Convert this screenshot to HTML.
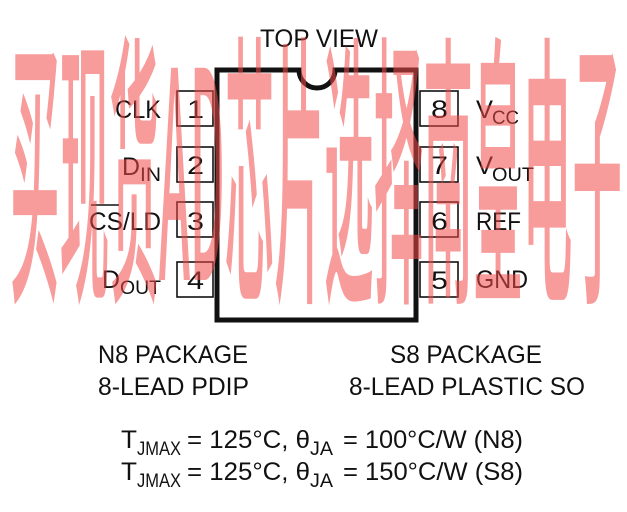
<!DOCTYPE html>
<html><head><meta charset="utf-8"><style>
html,body{margin:0;padding:0;background:#fff}
svg{display:block}
text{font-family:"Liberation Sans",sans-serif;fill:#111}
</style></head><body>
<svg width="627" height="512" viewBox="0 0 627 512" xmlns="http://www.w3.org/2000/svg">
<text x="260" y="47" font-size="25" textLength="118" lengthAdjust="spacingAndGlyphs">TOP VIEW</text>
<path d="M217 70 H299 A18 18 0 0 0 335 70 H416 V320 H217 Z" fill="none" stroke="#111" stroke-width="5"/>
<g fill="none" stroke="#111" stroke-width="1.6">
<rect x="177" y="91" width="36" height="35"/>
<rect x="177" y="147" width="36" height="35"/>
<rect x="177" y="202" width="36" height="35"/>
<rect x="177" y="262" width="36" height="35"/>
<rect x="420" y="91" width="38" height="35"/>
<rect x="420" y="147" width="38" height="35"/>
<rect x="420" y="202" width="38" height="35"/>
<rect x="420" y="262" width="38" height="35"/>
</g>
<g font-size="25">
<text x="187" y="118" textLength="17" lengthAdjust="spacingAndGlyphs">1</text>
<text x="187" y="174" textLength="17" lengthAdjust="spacingAndGlyphs">2</text>
<text x="187" y="230" textLength="17" lengthAdjust="spacingAndGlyphs">3</text>
<text x="187" y="289" textLength="17" lengthAdjust="spacingAndGlyphs">4</text>
<text x="431" y="118" textLength="17" lengthAdjust="spacingAndGlyphs">8</text>
<text x="431" y="174" textLength="17" lengthAdjust="spacingAndGlyphs">7</text>
<text x="431" y="230" textLength="17" lengthAdjust="spacingAndGlyphs">6</text>
<text x="431" y="289" textLength="17" lengthAdjust="spacingAndGlyphs">5</text>
<text x="115" y="118" textLength="46" lengthAdjust="spacingAndGlyphs">CLK</text>
<text x="122" y="175" textLength="18" lengthAdjust="spacingAndGlyphs">D</text>
<text x="140" y="181" font-size="19" textLength="21" lengthAdjust="spacingAndGlyphs">IN</text>
<text x="89" y="230" textLength="72" lengthAdjust="spacingAndGlyphs">CS/LD</text>
<line x1="91" y1="205" x2="119" y2="205" stroke="#111" stroke-width="1.5"/>
<text x="102" y="288" textLength="18" lengthAdjust="spacingAndGlyphs">D</text>
<text x="120" y="294" font-size="19" textLength="41" lengthAdjust="spacingAndGlyphs">OUT</text>
<text x="476" y="118" textLength="17" lengthAdjust="spacingAndGlyphs">V</text>
<text x="492" y="124" font-size="19" textLength="27" lengthAdjust="spacingAndGlyphs">CC</text>
<text x="476" y="174" textLength="17" lengthAdjust="spacingAndGlyphs">V</text>
<text x="492" y="181" font-size="19" textLength="42" lengthAdjust="spacingAndGlyphs">OUT</text>
<text x="476" y="230" textLength="45" lengthAdjust="spacingAndGlyphs">REF</text>
<text x="476" y="288" textLength="52" lengthAdjust="spacingAndGlyphs">GND</text>
</g>
<g font-size="25">
<text x="98" y="363" textLength="150" lengthAdjust="spacingAndGlyphs">N8 PACKAGE</text>
<text x="98" y="395" textLength="151" lengthAdjust="spacingAndGlyphs">8-LEAD PDIP</text>
<text x="390" y="363" textLength="152" lengthAdjust="spacingAndGlyphs">S8 PACKAGE</text>
<text x="349" y="395" textLength="236" lengthAdjust="spacingAndGlyphs">8-LEAD PLASTIC SO</text>
<text x="121" y="448" textLength="16" lengthAdjust="spacingAndGlyphs">T</text>
<text x="137" y="455" font-size="19" textLength="44" lengthAdjust="spacingAndGlyphs">JMAX</text>
<text x="187" y="448" textLength="123" lengthAdjust="spacingAndGlyphs">= 125°C, θ</text>
<text x="310" y="455" font-size="19" textLength="23" lengthAdjust="spacingAndGlyphs">JA</text>
<text x="343" y="448" textLength="180" lengthAdjust="spacingAndGlyphs">= 100°C/W (N8)</text>
<text x="121" y="480" textLength="16" lengthAdjust="spacingAndGlyphs">T</text>
<text x="137" y="487" font-size="19" textLength="44" lengthAdjust="spacingAndGlyphs">JMAX</text>
<text x="187" y="480" textLength="123" lengthAdjust="spacingAndGlyphs">= 125°C, θ</text>
<text x="310" y="487" font-size="19" textLength="23" lengthAdjust="spacingAndGlyphs">JA</text>
<text x="343" y="480" textLength="180" lengthAdjust="spacingAndGlyphs">= 150°C/W (S8)</text>
</g>
<g transform="translate(0,280) scale(1,6)">
<text x="10" y="0" font-size="48" style="font-family:'Noto Sans CJK SC',sans-serif;fill:#f04848;fill-opacity:0.55;font-weight:500" textLength="612" lengthAdjust="spacingAndGlyphs">买现货AD芯片选择南皇电子</text>
</g>
</svg>
</body></html>
